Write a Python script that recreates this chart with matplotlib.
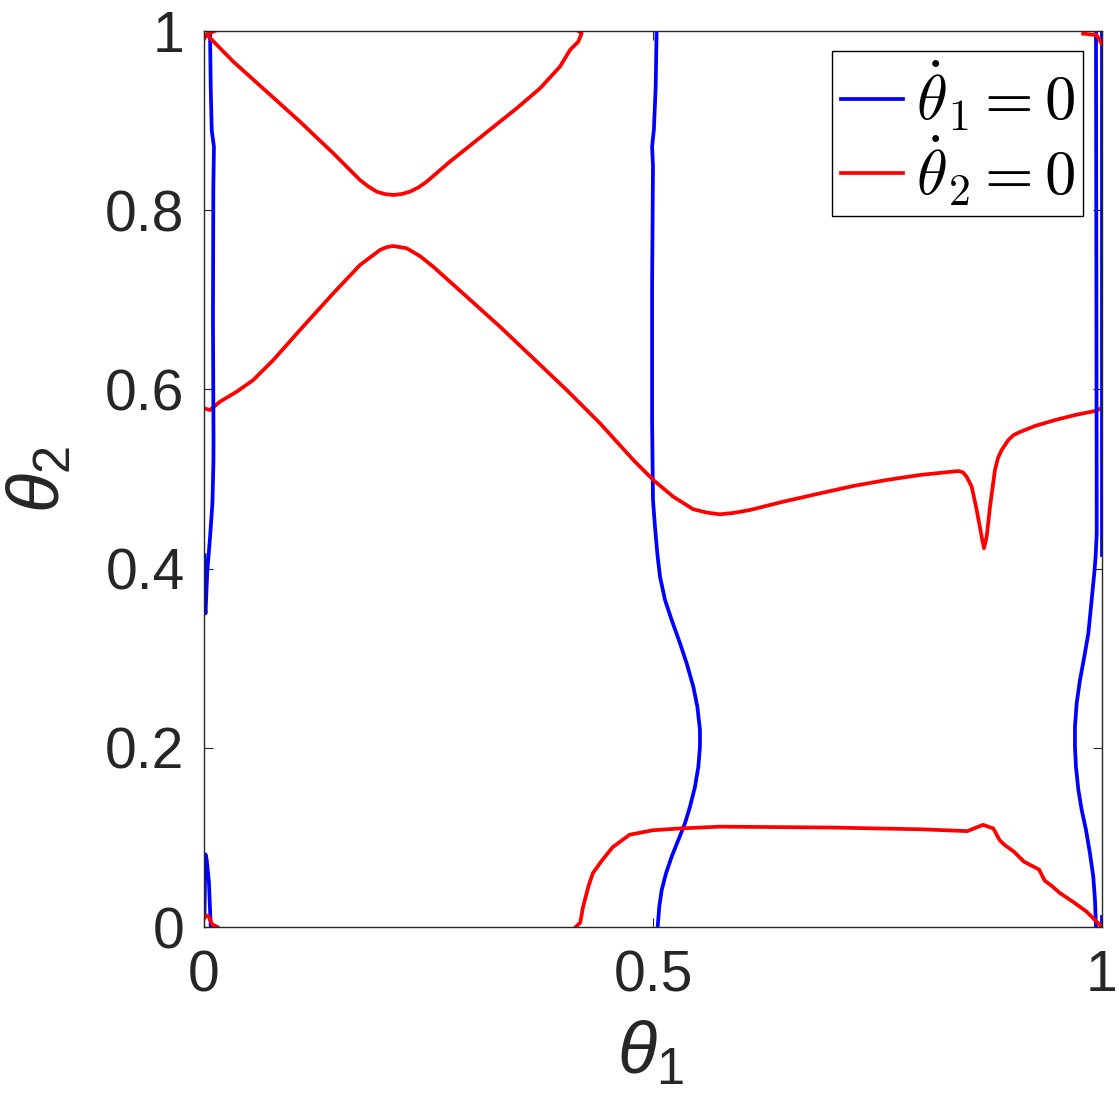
import numpy as np
import matplotlib
matplotlib.use("Agg")
import matplotlib.pyplot as plt

# nullcline traces (theta1, theta2 in [0, 1])
# theta1_dot = 0 (blue)
blue_mid_x = [0.504, 0.503, 0.501, 0.499, 0.500, 0.499, 0.499, 0.500, 0.5022, 0.5048,
              0.5078, 0.5134, 0.5208, 0.5301, 0.5375, 0.5449, 0.5494, 0.5523, 0.5523, 0.5505,
              0.5468, 0.5412, 0.5356, 0.5282, 0.5208, 0.5145, 0.5097, 0.5070, 0.5052]
blue_mid_y = [1.0, 0.938, 0.890, 0.871, 0.849, 0.715, 0.566, 0.4766, 0.4468, 0.4171,
              0.3910, 0.3650, 0.3426, 0.3166, 0.2943, 0.2682, 0.2459, 0.2199, 0.2012, 0.1789,
              0.1566, 0.1343, 0.1157, 0.0971, 0.0785, 0.0599, 0.0413, 0.0227, 0.0]

blue_left_x = [0.0067, 0.0075, 0.0086, 0.0111, 0.0104, 0.0100, 0.0104, 0.0106, 0.0105,
               0.0094, 0.0067, 0.0036, 0.0017, 0.0005, 0.0005]
blue_left_y = [1.0, 0.9375, 0.8895, 0.8705, 0.8259, 0.6775, 0.588, 0.5435, 0.519,
               0.473, 0.4345, 0.396, 0.350, 0.365, 0.415]

blue_left_low_x = [0.0005, 0.0012, 0.0017, 0.003, 0.0055, 0.0075]
blue_left_low_y = [0.012, 0.060, 0.081, 0.075, 0.050, 0.0]

blue_right_x = [0.9933, 0.9937, 0.9941, 0.9941, 0.9929, 0.9914, 0.9885, 0.9848, 0.9803,
                0.9755, 0.9718, 0.9699, 0.9699, 0.9710, 0.9737, 0.9774, 0.9822, 0.9866,
                0.9903, 0.9922, 0.9933]
blue_right_y = [1.0, 0.75, 0.4766, 0.4394, 0.4133, 0.3947, 0.3650, 0.3278, 0.3017,
                0.2757, 0.2497, 0.2236, 0.2012, 0.1789, 0.1529, 0.1306, 0.1083, 0.0822,
                0.0562, 0.0301, 0.0]

blue_edge_x = [0.9995, 0.9995]
blue_edge_y = [1.0, 0.415]
blue_corner_x = [0.9995, 0.9995]
blue_corner_y = [0.0, 0.011]

# theta2_dot = 0 (red)
red_top_x = [0.0030, 0.0326, 0.0698, 0.1069, 0.1440, 0.1737, 0.1830, 0.1923, 0.2015, 0.2108,
             0.2200, 0.2294, 0.2390, 0.2480, 0.2739, 0.3110, 0.3482, 0.3742, 0.3964, 0.4076,
             0.4168, 0.4206, 0.4168]
red_top_y = [0.9960, 0.9658, 0.9323, 0.8988, 0.8635, 0.8337, 0.8265, 0.8207, 0.8180, 0.8170,
             0.8180, 0.8207, 0.8255, 0.8318, 0.8542, 0.8839, 0.9137, 0.9360, 0.9602, 0.9788,
             0.9881, 0.9975, 1.0]

red_mid_x = [0.0, 0.0067, 0.0178, 0.0364, 0.0549, 0.0772, 0.1069, 0.1440, 0.1737, 0.1960,
             0.2035, 0.2108, 0.2257, 0.2406, 0.2553, 0.2925, 0.3296, 0.3667, 0.4039, 0.4410,
             0.4781, 0.5003, 0.5226, 0.5449, 0.5600, 0.5746, 0.5900, 0.6080, 0.6451, 0.6860,
             0.7230, 0.7602, 0.7973, 0.8400, 0.8450, 0.8493, 0.8549, 0.8605, 0.8660, 0.8686,
             0.8716, 0.8753, 0.8808, 0.8840, 0.8883, 0.8957, 0.9015, 0.9087, 0.9254, 0.9477,
             0.9699, 0.9922, 1.0]
red_mid_y = [0.5789, 0.5770, 0.5863, 0.5974, 0.6105, 0.6328, 0.6663, 0.7073, 0.7388, 0.7556,
             0.7588, 0.7600, 0.7575, 0.7487, 0.7369, 0.7035, 0.6700, 0.6347, 0.5993, 0.5622,
             0.5212, 0.4989, 0.4802, 0.4662, 0.4625, 0.4606, 0.4622, 0.4654, 0.4747, 0.4840,
             0.4922, 0.4989, 0.5045, 0.5089, 0.5075, 0.5026, 0.4914, 0.4654, 0.4356, 0.4227,
             0.4356, 0.4691, 0.5100, 0.5230, 0.5324, 0.5435, 0.5490, 0.5525, 0.5592, 0.5658,
             0.5714, 0.5759, 0.5792]

red_low_x = [0.414, 0.419, 0.422, 0.428, 0.433, 0.443, 0.455, 0.474, 0.500, 0.530, 0.575,
             0.700, 0.800, 0.850, 0.860, 0.8675, 0.879, 0.886, 0.891, 0.902, 0.913, 0.930,
             0.936, 0.945, 0.953, 0.968, 0.983, 0.998]
red_low_y = [0.0, 0.005, 0.022, 0.045, 0.060, 0.074, 0.089, 0.103, 0.108, 0.110, 0.112,
             0.111, 0.109, 0.107, 0.111, 0.114, 0.110, 0.097, 0.092, 0.084, 0.073, 0.064,
             0.052, 0.045, 0.038, 0.028, 0.017, 0.002]

red_tl_x = [0.0, 0.003, 0.012]
red_tl_y = [0.991, 0.996, 1.0]
red_tr_x = [0.979, 0.994, 0.9995]
red_tr_y = [0.997, 0.9955, 0.986]
red_bl_x = [0.0005, 0.002, 0.005, 0.009, 0.015]
red_bl_y = [0.010, 0.013, 0.012, 0.003, 0.0]

x_ticks = [0, 0.5, 1]
x_ticklabels = ["0", "0.5", "1"]
y_ticks = [0, 0.2, 0.4, 0.6, 0.8, 1]
y_ticklabels = ["0", "0.2", "0.4", "0.6", "0.8", "1"]

plt.rcParams["font.family"] = ["Liberation Sans", "DejaVu Sans"]
plt.rcParams["mathtext.fontset"] = "custom"
plt.rcParams["mathtext.rm"] = "Liberation Sans"
plt.rcParams["mathtext.it"] = "Liberation Sans:italic"

GRAY = "#262626"
LW = 2.7

fig = plt.figure(figsize=(11.19, 10.99), dpi=100)
ax = fig.add_axes([0.1823, 0.1565, 0.8025, 0.8153])

ax.plot(blue_mid_x, blue_mid_y, color="blue", lw=LW, solid_joinstyle="round",
        label=r"$\dot{\theta}_1 = 0$")
ax.plot(red_mid_x, red_mid_y, color="red", lw=LW, solid_joinstyle="round",
        label=r"$\dot{\theta}_2 = 0$")
for xs, ys in [(blue_left_x, blue_left_y), (blue_left_low_x, blue_left_low_y),
               (blue_right_x, blue_right_y), (blue_edge_x, blue_edge_y),
               (blue_corner_x, blue_corner_y)]:
    ax.plot(xs, ys, color="blue", lw=LW, solid_joinstyle="round")
for xs, ys in [(red_top_x, red_top_y), (red_low_x, red_low_y), (red_tl_x, red_tl_y),
               (red_tr_x, red_tr_y), (red_bl_x, red_bl_y)]:
    ax.plot(xs, ys, color="red", lw=LW, solid_joinstyle="round")

ax.set_xlim(0, 1)
ax.set_ylim(0, 1)
ax.set_xticks(x_ticks)
ax.set_xticklabels(x_ticklabels)
ax.set_yticks(y_ticks)
ax.set_yticklabels(y_ticklabels)
ax.tick_params(direction="in", length=6.5, width=0.8, color=GRAY, labelcolor=GRAY,
               labelsize=41, top=True, right=True)
ax.tick_params(axis="x", pad=16)
ax.tick_params(axis="y", pad=14)
for sp in ax.spines.values():
    sp.set_color(GRAY)
    sp.set_linewidth(1.0)

# axis labels, one text each so the subscript stays with its theta
W, H = 1119, 1099
fig.text(650 / W, 1 - 1089 / H, r"$\theta_1$", fontsize=52, color=GRAY,
         ha="center", va="bottom")
fig.text(6 / W, 1 - 480 / H, r"$\theta_2$", fontsize=52, color=GRAY,
         ha="left", va="center", rotation=90)

leg = ax.legend(loc="upper right", bbox_to_anchor=(0.9788, 0.9777), borderaxespad=0,
                fontsize=45, fancybox=False, framealpha=1, edgecolor="black",
                handlelength=1.0, handletextpad=0.2, borderpad=0.13, labelspacing=0.0)
leg.get_frame().set_linewidth(1.0)
for t in leg.get_texts():
    t.set_math_fontfamily("cm")

fig.savefig("out.png", dpi=100)
